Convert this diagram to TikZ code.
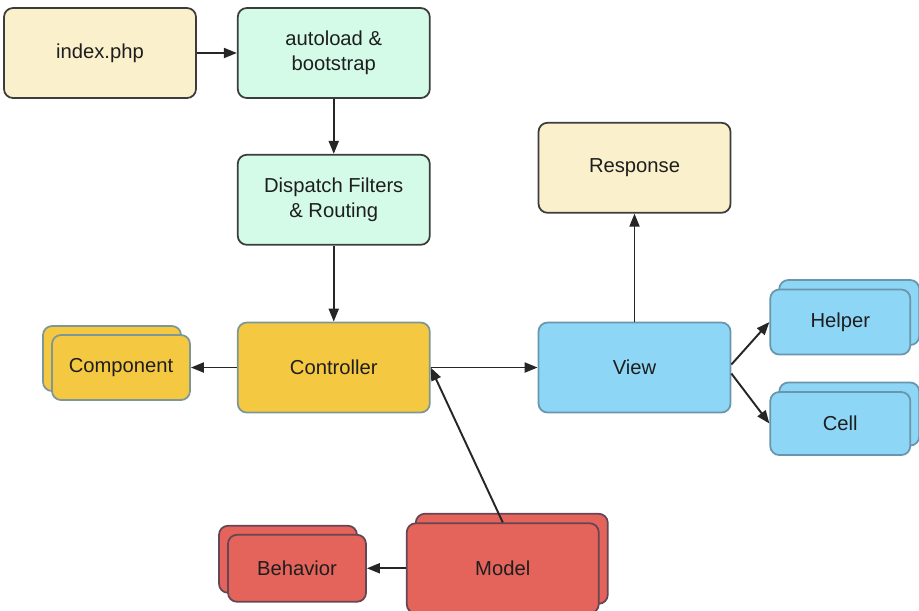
\documentclass[tikz,border=0pt]{standalone}
\usepackage{fontspec}
\setmainfont{Liberation Sans}
\usepackage{tikz}
\usetikzlibrary{arrows.meta,positioning,shadows}
\definecolor{creamfill}{RGB}{250,240,204}
\definecolor{mintfill}{RGB}{212,251,232}
\definecolor{yellowfill}{RGB}{245,200,66}
\definecolor{bluefill}{RGB}{142,214,246}
\definecolor{redfill}{RGB}{228,99,90}
\definecolor{darkline}{RGB}{60,60,60}
\definecolor{yellowline}{RGB}{125,150,150}
\definecolor{blueline}{RGB}{105,150,172}
\definecolor{redline}{RGB}{100,70,85}
\definecolor{labeltext}{RGB}{30,30,30}
\tikzset{box/.style={rounded corners=0.18cm, align=center, inner sep=4pt, line width=1pt, text=labeltext, minimum width=3.84cm, minimum height=1.8cm}, cbox/.style={box, draw=darkline, fill=creamfill}, mbox/.style={box, draw=darkline, fill=mintfill}, ybox/.style={box, draw=yellowline, fill=yellowfill}, bbox/.style={box, draw=blueline, fill=bluefill}, rbox/.style={box, draw=redline, fill=redfill}, stackl/.style={copy shadow={shadow xshift=-0.18cm, shadow yshift=0.18cm}}, stackr/.style={copy shadow={shadow xshift=0.18cm, shadow yshift=0.19cm}}, edge/.style={-{Triangle[length=0.26cm,width=0.2cm]}, line width=1.1pt, draw=black!85}}

\begin{document}
\begin{tikzpicture}[font=\fontsize{11.5}{14}\selectfont]
\useasboundingbox (0,0) rectangle (18.38,-12.2);
\node[cbox] (index) at (2.0,-1.06) {index.php};
\node[mbox,right=0.8cm of index] (boot) {autoload \&\\bootstrap};
\node[mbox,below=1.1cm of boot] (disp) {Dispatch Filters\\\& Routing};
\node[ybox,below=1.52cm of disp] (ctrl) {Controller};
\node[ybox,stackl,left=0.92cm of ctrl,minimum width=2.76cm,minimum height=1.3cm] (comp) {Component};
\node[bbox,right=2.14cm of ctrl] (view) {View};
\node[cbox,above=2.16cm of view] (resp) {Response};
\node[bbox,stackr,right=0.76cm of view,yshift=0.91cm,minimum width=2.8cm,minimum height=1.3cm] (helper) {Helper};
\node[bbox,stackr,right=0.76cm of view,yshift=-1.12cm,minimum width=2.8cm,minimum height=1.26cm] (cell) {Cell};
\node[rbox,stackr,below=2.18cm of ctrl,xshift=3.38cm] (model) {Model};
\node[rbox,stackl,left=0.78cm of model,minimum width=2.76cm,minimum height=1.34cm] (behav) {Behavior};
\draw[edge] (index)--(boot); \draw[edge] (boot)--(disp); \draw[edge] (disp)--(ctrl);
\draw[edge] (ctrl)--(comp); \draw[edge] (ctrl)--(view); \draw[edge] (view)--(resp);
\draw[edge] ([yshift=0.06cm]view.east)--(helper.west); \draw[edge] ([yshift=-0.12cm]view.east)--(cell.west);
\draw[edge] (model.north)--(ctrl.east); \draw[edge] (model)--(behav);
\end{tikzpicture}
\end{document}
